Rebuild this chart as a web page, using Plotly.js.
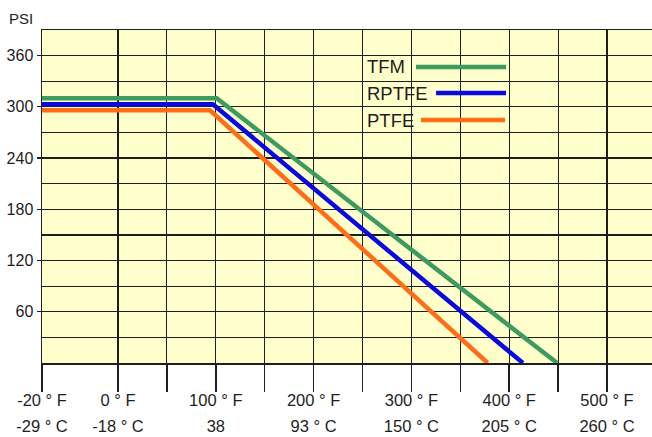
<!DOCTYPE html>
<html>
<head>
<meta charset="utf-8">
<script src="https://cdn.plot.ly/plotly-3.0.1.min.js"></script>
<style>html,body{margin:0;padding:0;background:#fff;}#chart{width:652px;height:437px;}</style>
</head>
<body>
<div id="chart"></div>
<script>
// ---- data ----
const seriesNames = ['TFM', 'RPTFE', 'PTFE'];
const tfmTempF   = [-20, 101, 449];
const tfmPsi     = [310, 310, 0];
const rptfeTempF = [-20, 97, 414];
const rptfePsi   = [303, 303, 0];
const ptfeTempF  = [-20, 94, 378];
const ptfePsi    = [296, 296, 0];

const xTickF      = [-20, 0, 100, 200, 300, 400, 500];
const xTickFText  = ['-20 ° F', '0 ° F', '100 ° F', '200 ° F', '300 ° F', '400 ° F', '500 ° F'];
const xTickCText  = ['-29 ° C', '-18 ° C', '38', '93 ° C', '150 ° C', '205 ° C', '260 ° C'];
const xMinorF     = [50, 150, 250, 350, 450];
const yTickVals   = [60, 120, 180, 240, 300, 360];
const yMinorVals  = [30, 90, 150, 210, 270, 330, 390];

// The reference's axis stretches the -20..0 °F segment.
const LEFT_STRETCH = 3.885;
function axisPos(f) { return f < 0 ? f * LEFT_STRETCH : f; }

const colors = ['#3d9b60', '#0a0ae0', '#ff6d17'];
const FONT = '"Liberation Sans", Arial, sans-serif';
const INK = '#1e1e1e';

const temps = [tfmTempF, rptfeTempF, ptfeTempF];
const psis = [tfmPsi, rptfePsi, ptfePsi];

const traces = seriesNames.map((n, i) => ({
  type: 'scatter', mode: 'lines', name: n,
  x: temps[i].map(axisPos), y: psis[i],
  line: {color: colors[i], width: 4.5},
  showlegend: false, hoverinfo: 'skip'
}));
// empty helper traces so the label-only overlay axes are drawn
traces.push({type: 'scatter', x: [], y: [], xaxis: 'x2', yaxis: 'y', showlegend: false, hoverinfo: 'skip'});
traces.push({type: 'scatter', x: [], y: [], xaxis: 'x3', yaxis: 'y', showlegend: false, hoverinfo: 'skip'});

const xRange = [axisPos(-20), 546];
const tickPos = xTickF.map(axisPos);

function labelAxis(text, len) {
  return {
    range: xRange, fixedrange: true, overlaying: 'x', anchor: 'y', side: 'bottom',
    tickmode: 'array', tickvals: tickPos, ticktext: text,
    ticks: 'outside', ticklen: len, tickcolor: 'rgba(0,0,0,0)',
    showgrid: false, showline: false, zeroline: false,
    tickfont: {family: FONT, size: 16.5, color: INK}
  };
}

const layout = {
  width: 652, height: 437,
  margin: {l: 42, r: 0, t: 30, b: 74},
  paper_bgcolor: '#ffffff',
  plot_bgcolor: '#ffffcc',
  showlegend: false,
  font: {family: FONT, color: INK, size: 16},
  xaxis: {
    range: xRange, fixedrange: true,
    tickmode: 'array', tickvals: tickPos, ticktext: tickPos.map(() => ''),
    ticks: 'outside', ticklen: 27, tickwidth: 1.5, tickcolor: INK,
    showgrid: true, gridcolor: INK, gridwidth: 1.2,
    showline: true, linecolor: INK, linewidth: 1.5, mirror: true,
    zeroline: false,
    minor: {tickvals: xMinorF.map(axisPos), ticks: 'outside', ticklen: 27, tickwidth: 1.5, tickcolor: INK,
            showgrid: true, gridcolor: INK, gridwidth: 1.2}
  },
  xaxis2: labelAxis(xTickFText, 22),
  xaxis3: labelAxis(xTickCText, 48),
  yaxis: {
    range: [0, 390], fixedrange: true,
    tickmode: 'array', tickvals: yTickVals, ticktext: yTickVals.map(String),
    ticks: 'outside', ticklen: 4, tickwidth: 1.2, tickcolor: INK,
    showgrid: true, gridcolor: INK, gridwidth: 1.2,
    showline: true, linecolor: INK, linewidth: 1.5,
    zeroline: false,
    tickfont: {family: FONT, size: 16, color: INK},
    minor: {tickvals: yMinorVals, ticks: '', showgrid: true, gridcolor: INK, gridwidth: 1.2}
  },
  annotations: [
    {xref: 'paper', yref: 'paper', x: -0.057, y: 1.036, xanchor: 'left', yanchor: 'middle',
     text: 'PSI', showarrow: false, font: {family: FONT, size: 15, color: INK}},
    {xref: 'paper', yref: 'paper', x: 0.5295, y: 0.889, xanchor: 'left', yanchor: 'middle',
     text: seriesNames[0], showarrow: false, font: {family: FONT, size: 18.5, color: INK}},
    {xref: 'paper', yref: 'paper', x: 0.5295, y: 0.8108, xanchor: 'left', yanchor: 'middle',
     text: seriesNames[1], showarrow: false, font: {family: FONT, size: 18.5, color: INK}},
    {xref: 'paper', yref: 'paper', x: 0.5295, y: 0.7297, xanchor: 'left', yanchor: 'middle',
     text: seriesNames[2], showarrow: false, font: {family: FONT, size: 18.5, color: INK}}
  ],
  shapes: [
    {type: 'line', xref: 'paper', yref: 'paper', x0: 0.613, x1: 0.7607, y0: 0.889, y1: 0.889,
     line: {color: colors[0], width: 4.5}},
    {type: 'line', xref: 'paper', yref: 'paper', x0: 0.646, x1: 0.7607, y0: 0.8108, y1: 0.8108,
     line: {color: colors[1], width: 4.5}},
    {type: 'line', xref: 'paper', yref: 'paper', x0: 0.6213, x1: 0.759, y0: 0.7297, y1: 0.7297,
     line: {color: colors[2], width: 4.5}}
  ]
};

Plotly.newPlot('chart', traces, layout, {staticPlot: true, displayModeBar: false});
</script>
</body>
</html>
